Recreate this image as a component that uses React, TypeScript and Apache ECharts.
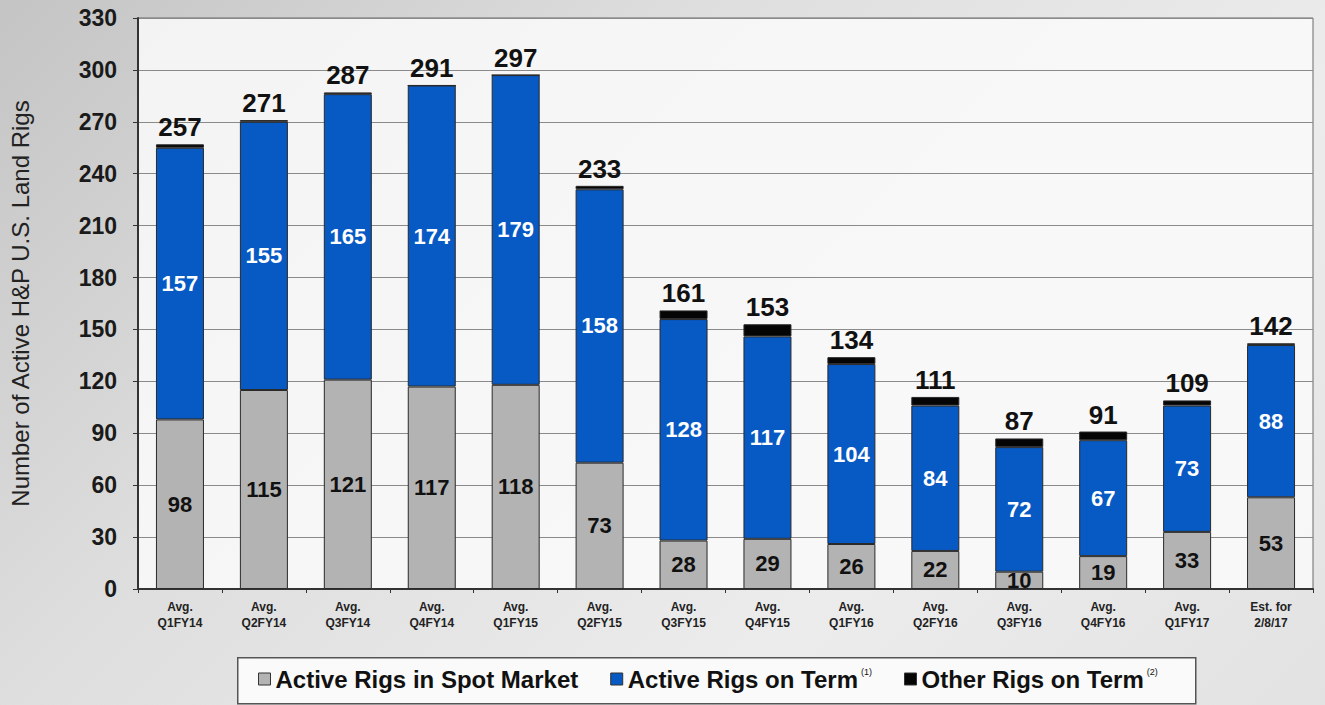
import React, { useEffect, useRef } from "react";
import * as echarts from "echarts";

const categories = [
  "Avg.\nQ1FY14", "Avg.\nQ2FY14", "Avg.\nQ3FY14", "Avg.\nQ4FY14", "Avg.\nQ1FY15",
  "Avg.\nQ2FY15", "Avg.\nQ3FY15", "Avg.\nQ4FY15", "Avg.\nQ1FY16", "Avg.\nQ2FY16",
  "Avg.\nQ3FY16", "Avg.\nQ4FY16", "Avg.\nQ1FY17", "Est. for\n2/8/17",
];
const spotMarket = [98, 115, 121, 117, 118, 73, 28, 29, 26, 22, 10, 19, 33, 53];
const activeTerm = [157, 155, 165, 174, 179, 158, 128, 117, 104, 84, 72, 67, 73, 88];
const otherTerm = [2, 1, 1, 0, 0, 2, 5, 7, 4, 5, 5, 5, 3, 1];
const totals = [257, 271, 287, 291, 297, 233, 161, 153, 134, 111, 87, 91, 109, 142];
const yTicks = { min: 0, max: 330, interval: 30 };

const FONT = "'Liberation Sans', Arial, sans-serif";

export default function App() {
  const ref = useRef<HTMLDivElement>(null);
  useEffect(() => {
    if (!ref.current) return;
    const chart = echarts.init(ref.current, null, { renderer: "svg" });
    const border = { borderColor: "#2a2a2a", borderWidth: 1 };
    chart.setOption({
      animation: false,
      backgroundColor: "transparent",
      textStyle: { fontFamily: FONT },
      grid: {
        left: 133, right: 12, top: 18, bottom: 116,
        show: true, backgroundColor: "rgba(250,250,250,0.85)", borderColor: "#6a6a6a", borderWidth: 1,
      },
      graphic: [
        {
          type: "rect", left: 237, top: 657, z: -1,
          shape: { width: 958, height: 46 },
          style: { fill: "#fafafa", stroke: "#555", lineWidth: 1.5 },
        },
      ],
      legend: {
        left: 258, top: 667,
        padding: 0,
        itemWidth: 12, itemHeight: 12, itemGap: 32,
        itemStyle: { borderColor: "#333", borderWidth: 1 },
        icon: "rect",
        textStyle: {
          fontFamily: FONT, fontWeight: "bold", fontSize: 24, color: "#111",
          rich: {
            sup: { fontSize: 9, fontWeight: "normal", color: "#111", verticalAlign: "top", padding: [0, 0, 14, 3] },
          },
        },
        formatter: (name: string) => {
          if (name === "Active Rigs on Term") return name + "{sup|(1)}";
          if (name === "Other Rigs on Term") return name + "{sup|(2)}";
          return name;
        },
        data: ["Active Rigs in Spot Market", "Active Rigs on Term", "Other Rigs on Term"],
      },
      xAxis: {
        type: "category",
        data: categories,
        axisLine: { lineStyle: { color: "#333", width: 2 } },
        axisTick: { show: true, length: 4, lineStyle: { color: "#333" } },
        axisLabel: {
          fontFamily: FONT, fontWeight: "bold", fontSize: 12, color: "#222", lineHeight: 16, margin: 10,
        },
      },
      yAxis: {
        type: "value",
        ...yTicks,
        name: "Number of Active H&P U.S. Land Rigs",
        nameLocation: "middle",
        nameGap: 106,
        nameTextStyle: { fontFamily: FONT, fontWeight: "normal", fontSize: 24, color: "#222" },
        axisLine: { show: true, lineStyle: { color: "#333", width: 2 } },
        axisTick: { show: true, length: 5, lineStyle: { color: "#333" } },
        axisLabel: { fontFamily: FONT, fontWeight: "bold", fontSize: 23, color: "#1a1a1a", margin: 21 },
        splitLine: { lineStyle: { color: "#8a8a8a", width: 1.2 } },
      },
      series: [
        {
          name: "Active Rigs in Spot Market",
          type: "bar", stack: "rigs", barWidth: 48,
          data: spotMarket,
          itemStyle: { color: "#b3b3b3", ...border },
          label: { show: true, position: "inside", fontFamily: FONT, fontWeight: "bold", fontSize: 22, color: "#111" },
        },
        {
          name: "Active Rigs on Term",
          type: "bar", stack: "rigs", barWidth: 48,
          data: activeTerm,
          itemStyle: { color: "#0759c4", ...border },
          label: { show: true, position: "inside", fontFamily: FONT, fontWeight: "bold", fontSize: 22, color: "#ffffff" },
        },
        {
          name: "Other Rigs on Term",
          type: "bar", stack: "rigs", barWidth: 48,
          data: otherTerm,
          itemStyle: { color: "#050505", ...border },
          label: {
            show: true, position: "top", distance: 4,
            fontFamily: FONT, fontWeight: "bold", fontSize: 26, color: "#111",
            formatter: (p: any) => String(totals[p.dataIndex]),
          },
        },
      ],
    });
    return () => chart.dispose();
  }, []);
  return (
    <div
      style={{
        position: "fixed", left: 0, top: 0, width: 1325, height: 705,
        background: "linear-gradient(135deg, #c4c4c4 0%, #dedede 35%, #ececec 70%, #e2e2e2 100%)",
      }}
    >
      <div ref={ref} style={{ width: 1325, height: 705 }} />
    </div>
  );
}
